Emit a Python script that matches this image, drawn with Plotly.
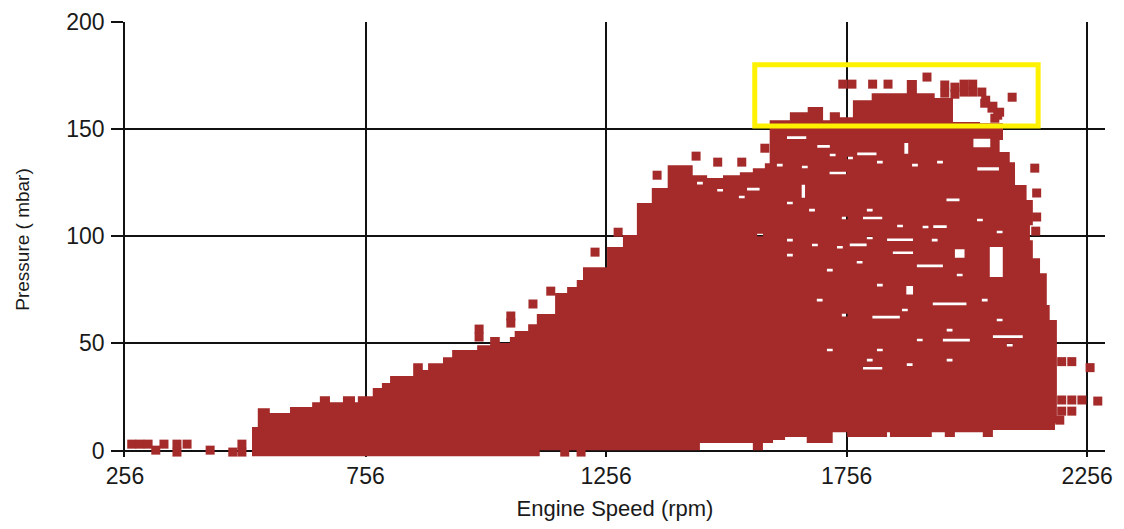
import plotly.graph_objects as go

# ---------------- data ----------------
# Dense cloud of samples: outline of the solid region
# upper boundary: segment edges (rpm) and top pressure of each segment (mbar)
UPPER_EDGE_RPM = [520, 532, 557, 599, 645, 661, 682, 709, 734, 740, 771, 790, 807, 855, 875,
                  886, 917, 936, 988, 1015, 1035, 1056, 1066, 1094, 1112, 1150, 1175, 1195,
                  1208, 1258, 1291, 1320, 1351, 1384, 1436, 1466, 1499, 1534, 1561, 1586,
                  1596, 1638, 1675, 1707, 1721, 1742, 1769, 1808, 1881, 1902, 1939, 1977,
                  2033, 2081]
UPPER_P = [11.0, 19.8, 17.5, 20.3, 22.6, 25.4, 22.6, 25.4, 22.6, 25.4, 29.2, 31.5, 34.8,
           40.8, 37.6, 40.8, 43.6, 46.9, 49.2, 53.0, 50.2, 53.0, 55.8, 59.0, 63.7, 73.5,
           76.3, 79.6, 85.6, 95.0, 100.6, 115.5, 122.5, 133.2, 128.5, 127.2, 128.5, 129.9,
           131.8, 134.1, 154.2, 157.9, 160.3, 154.2, 157.9, 155.6, 163.5, 166.8, 172.9,
           166.8, 164.5, 153.3, 152.8]
# right boundary: pressure break points (top to bottom) and rpm of each piece
RIGHT_EDGE_P = [152.8, 144.9, 139.3, 134.6, 123.9, 116.9, 105.2, 98.2, 89.8, 82.8, 67.9,
                60.9, 12.8, 9.6]
RIGHT_RPM = [2081, 2074, 2095, 2106, 2130, 2143, 2137, 2143, 2158, 2172, 2178, 2193, 2189]
# lower boundary: segment edges (rpm, right to left) and bottom pressure of each segment
LOWER_EDGE_RPM = [2189, 2060, 2039, 1981, 1960, 1933, 1846, 1840, 1757, 1727, 1673, 1628,
                  1603, 1582, 1561, 1451, 1118, 520]
LOWER_P = [9.6, 6.3, 8.6, 6.3, 8.6, 6.3, 8.6, 6.3, 8.6, 3.5, 6.3, 4.9, 3.5, 0.2, 3.5, 0.2,
           -2.6]

# Empty pockets inside the cloud (no samples): centre rpm, centre pressure, width, height
GAP_RPM = [1652, 1708, 1798, 1880, 2037, 2050, 1562, 1666, 1738, 1977, 1950, 1810,
           1780, 1867, 1873, 1929, 1991, 2067, 1887, 1970, 1838, 1984, 2091, 1810,
           1617, 1669, 1727, 1763, 1825, 1898, 1950,
           1451, 1493, 1538, 1638, 1684, 1752, 1804, 1867, 1920, 2033, 2074,
           1576, 1638, 1690, 1742, 1804, 1939,
           1638, 1721, 1783, 1825, 1991,
           2043, 1700, 1752, 1877, 1970, 2074,
           1721, 1825, 1908, 1804, 1887, 1970, 2095]
GAP_P = [146.0, 142.0, 138.5, 141.0, 143.5, 131.5, 122.0, 121.0, 129.5, 117.0, 104.5, 108.5,
         96.0, 98.4, 92.3, 86.2, 92.0, 88.0, 74.8, 68.5, 62.3, 51.5, 53.2, 38.4,
         133.2, 132.3, 137.9, 136.5, 134.6, 133.2, 134.6,
         124.8, 121.5, 118.3, 115.5, 112.2, 108.5, 112.2, 104.8, 104.3, 107.6, 102.0,
         100.6, 98.2, 95.9, 94.9, 99.2, 98.2,
         91.2, 84.2, 87.9, 77.2, 81.9,
         70.2, 70.2, 63.2, 65.6, 56.2, 60.9,
         46.9, 46.9, 51.6, 42.2, 40.1, 42.2, 49.2]
GAP_W = [40, 26, 40, 8, 35, 45, 26, 7, 35, 27, 28, 40,
         35, 54, 42, 54, 20, 27, 14, 70, 57, 56, 62, 40,
         12, 12, 12, 12, 12, 12, 12,
         12, 12, 12, 12, 12, 12, 12, 12, 12, 12, 12,
         12, 12, 12, 12, 12, 12,
         12, 12, 12, 12, 12,
         12, 12, 12, 12, 12, 12,
         12, 12, 12, 12, 12, 12, 12]
GAP_H = [1.3, 1.3, 1.3, 5.0, 4.0, 1.5, 1.3, 6.0, 1.2, 1.3, 1.3, 1.2,
         1.2, 1.2, 1.2, 1.3, 4.0, 14.0, 4.0, 1.3, 1.3, 1.3, 1.3, 1.2,
         1.2, 1.2, 1.2, 1.2, 1.2, 1.2, 1.2,
         1.2, 1.2, 1.2, 1.2, 1.2, 1.2, 1.2, 1.2, 1.2, 1.2, 1.2,
         1.2, 1.2, 1.2, 1.2, 1.2, 1.2,
         1.2, 1.2, 1.2, 1.2, 1.2,
         1.2, 1.2, 1.2, 1.2, 1.2, 1.2,
         1.2, 1.2, 1.2, 1.2, 1.2, 1.2, 1.2]

# Isolated samples outside the dense cloud
POINT_RPM = [270, 287, 304, 320, 337, 364, 385, 364, 433, 480, 499, 499,
             1170, 1204,
             992, 992, 1058, 1058, 1104, 1141, 1233, 1281, 1362, 1443, 1488, 1538, 1586,
             1748, 1767, 1810, 1842, 1923,
             1960, 1960, 1981, 1981, 2000, 2000, 2018, 2018, 2037, 2045, 2060, 2074, 2043,
             2058, 2070, 2064, 2100,
             2147, 2151, 2151, 2149,
             2203, 2224, 2262, 2203, 2224, 2245, 2278, 2203, 2224, 2199]
POINT_P = [3.0, 3.0, 3.0, 0.2, 3.0, 3.0, 3.0, -0.7, 0.2, -0.7, -0.7, 3.0,
           -0.7, -0.7,
           56.7, 53.0, 62.8, 59.5, 68.4, 74.4, 92.6, 101.9, 128.5, 137.4, 134.6, 134.6, 141.1,
           171.0, 171.0, 171.0, 171.0, 174.3,
           170.6, 166.8, 169.6, 166.3, 171.0, 167.3, 171.0, 167.3, 167.3, 163.5, 160.7, 157.9,
           162.1, 159.8, 156.5, 155.1, 164.9,
           131.8, 120.2, 109.0, 102.4,
           41.5, 41.5, 38.7, 23.6, 23.6, 23.6, 23.1, 18.4, 18.4, 14.2]

X_TICKS = [256, 756, 1256, 1756, 2256]
Y_TICKS = [0, 50, 100, 150, 200]
X_RANGE = [256, 2293]
Y_RANGE = [-3, 200]
HIGHLIGHT_RPM = [1565, 2154]
HIGHLIGHT_P = [151.5, 180]

X_TITLE = "Engine Speed (rpm)"
Y_TITLE = "Pressure ( mbar)"

BROWN = "#A52A2A"
FONT = "Liberation Sans, Arial, sans-serif"

# ---------------- build outline of dense region ----------------
px, py = [], []
for i, v in enumerate(UPPER_P):
    px += [UPPER_EDGE_RPM[i], UPPER_EDGE_RPM[i + 1]]
    py += [v, v]
for i, r in enumerate(RIGHT_RPM):
    px += [r, r]
    py += [RIGHT_EDGE_P[i], RIGHT_EDGE_P[i + 1]]
for i, v in enumerate(LOWER_P):
    px += [LOWER_EDGE_RPM[i], LOWER_EDGE_RPM[i + 1]]
    py += [v, v]
# empty pockets, traced with the opposite winding so they are cut out of the fill
for xc, yc, w, h in zip(GAP_RPM, GAP_P, GAP_W, GAP_H):
    x0, x1, y0, y1 = xc - w / 2, xc + w / 2, yc - h / 2, yc + h / 2
    px += [None, x0, x1, x1, x0]
    py += [None, y0, y0, y1, y1]

fig = go.Figure()
fig.add_trace(go.Scatter(
    x=px, y=py, mode="lines", fill="toself", fillcolor=BROWN, connectgaps=False,
    line=dict(width=0, color=BROWN), hoverinfo="skip", showlegend=False))
fig.add_trace(go.Scatter(
    x=POINT_RPM, y=POINT_P, mode="markers",
    marker=dict(symbol="square", size=9, color=BROWN, line=dict(width=0)),
    cliponaxis=False, showlegend=False))

fig.add_shape(type="rect", xref="x", yref="y",
              x0=HIGHLIGHT_RPM[0], x1=HIGHLIGHT_RPM[1],
              y0=HIGHLIGHT_P[0], y1=HIGHLIGHT_P[1],
              line=dict(color="#FFF200", width=5), fillcolor="rgba(0,0,0,0)", layer="above")

# the page body keeps its default 8px margin, so the figure is sized to fit inside it
fig.update_layout(
    width=1108, height=513,
    margin=dict(l=117, r=11, t=14, b=64, autoexpand=False),
    paper_bgcolor="white", plot_bgcolor="white",
    font=dict(family=FONT, color="#1a1a1a"),
    showlegend=False,
)
fig.update_xaxes(
    range=X_RANGE, tickmode="array", tickvals=X_TICKS, ticktext=[str(t) for t in X_TICKS],
    showgrid=True, gridcolor="#111111", gridwidth=1.5,
    zeroline=False, showline=False, ticks="",
    tickfont=dict(size=23, family=FONT, color="#1a1a1a"),
    ticklabelstandoff=3, automargin=False,
    title=dict(text=X_TITLE, font=dict(size=22, family=FONT, color="#1a1a1a"), standoff=22),
    layer="below traces",
)
fig.update_yaxes(
    range=Y_RANGE, tickmode="array", tickvals=Y_TICKS, ticktext=[str(t) for t in Y_TICKS],
    showgrid=True, gridcolor="#111111", gridwidth=1.5,
    zeroline=False, showline=True, linecolor="#111111", linewidth=1.5,
    ticks="outside", ticklen=12, tickwidth=1.5, tickcolor="#111111",
    tickfont=dict(size=23, family=FONT, color="#1a1a1a"),
    ticklabelstandoff=2, automargin=False,
    title=dict(text=Y_TITLE, font=dict(size=19, family=FONT, color="#1a1a1a"), standoff=32),
    layer="below traces",
)

fig.write_html("out.html")
